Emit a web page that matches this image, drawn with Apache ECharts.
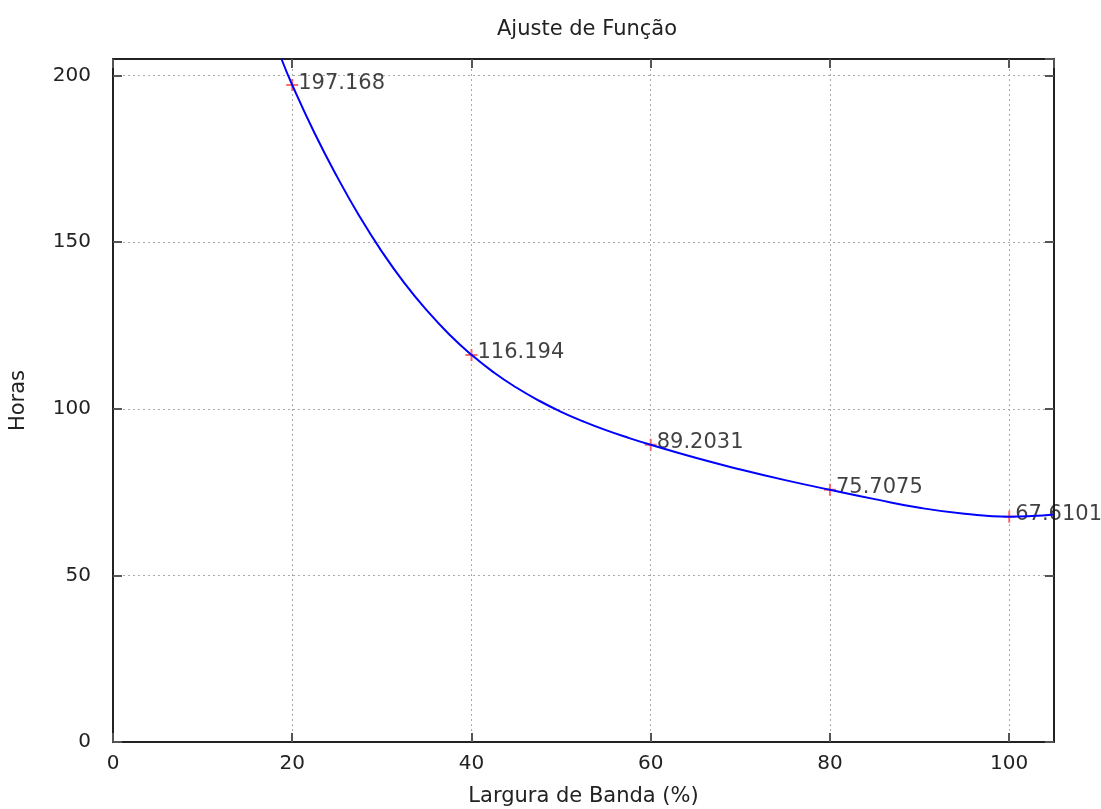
<!DOCTYPE html>
<html>
<head>
<meta charset="utf-8">
<title>Ajuste de Função</title>
<script src="https://cdn.jsdelivr.net/npm/echarts@6/dist/echarts.min.js"></script>
<style>
  html, body { margin: 0; padding: 0; background: #fff; }
  #chart { width: 1101px; height: 809px; }
</style>
</head>
<body>
<div id="chart"></div>
<script>
// pontos medidos
var larguraBanda = [20, 40, 60, 80, 100];
var horas = [197.168, 116.194, 89.2031, 75.7075, 67.6101];
var rotulos = ["197.168", "116.194", "89.2031", "75.7075", "67.6101"];

// curva ajustada
var ajusteX = [18.8, 20, 22.5, 25, 27.5, 30, 32.5, 35, 37.5, 40, 42.5, 45, 47.5, 50,
  52.5, 55, 57.5, 60, 65, 70, 75, 80, 85, 90, 95, 100, 102.5, 105];
var ajusteY = [205.0, 197.2, 182.7, 169.7, 157.8, 147.2, 137.8, 129.6, 122.4, 116.2, 110.9, 106.4, 102.5, 99.1,
  96.2, 93.6, 91.3, 89.2, 85.3, 81.8, 78.6, 75.7, 72.9, 70.3, 68.5, 67.6, 67.8, 68.3];

var xTicks = { min: 0, max: 105, interval: 20 };
var yTicks = { min: 0, max: 205, interval: 50 };

var fonte = "DejaVu Sans";
var corEixo = "#222";

var ajuste = [];
for (var i = 0; i < ajusteX.length; i++) {
  ajuste.push([ajusteX[i], ajusteY[i]]);
}
var pontos = [];
for (var k = 0; k < larguraBanda.length; k++) {
  pontos.push({ value: [larguraBanda[k], horas[k]], rotulo: rotulos[k] });
}

function eixo(extra) {
  var base = {
    type: "value",
    axisLine: { show: true, onZero: false, lineStyle: { color: corEixo, width: 2 } },
    axisTick: { show: true, inside: true, length: 9, lineStyle: { color: "#555", width: 2 } },
    splitLine: { show: false },
    axisLabel: { show: false }
  };
  for (var key in extra) base[key] = extra[key];
  return base;
}

var myChart = echarts.init(document.getElementById("chart"));

var option = {
  backgroundColor: "#fff",
  animation: false,
  title: {
    text: "Ajuste de Função",
    left: 582,
    textAlign: "center",
    top: 14,
    textStyle: { fontFamily: fonte, fontSize: 21, fontWeight: "normal", color: "#222" }
  },
  grid: { left: 113, right: 47, top: 59, bottom: 67, outerBoundsMode: "none" },
  xAxis: [
    eixo({
      position: "bottom",
      min: xTicks.min, max: xTicks.max, interval: xTicks.interval,
      name: "Largura de Banda (%)",
      nameLocation: "middle",
      nameGap: 44,
      nameTextStyle: { fontFamily: fonte, fontSize: 21, color: "#222" },
      axisLabel: { show: true, showMaxLabel: false, margin: 12, fontFamily: fonte, fontSize: 20, color: "#222" },
      splitLine: { show: true, lineStyle: { color: "#aaa", width: 1, type: [2, 3] } }
    }),
    eixo({ position: "top", min: xTicks.min, max: xTicks.max, interval: xTicks.interval })
  ],
  yAxis: [
    eixo({
      position: "left",
      min: yTicks.min, max: yTicks.max, interval: yTicks.interval,
      name: "Horas",
      nameLocation: "middle",
      nameGap: 84,
      nameTextStyle: { fontFamily: fonte, fontSize: 21, color: "#222" },
      axisLabel: { show: true, showMaxLabel: false, margin: 22, fontFamily: fonte, fontSize: 20, color: "#222" },
      splitLine: { show: true, lineStyle: { color: "#aaa", width: 1, type: [2, 3] } }
    }),
    eixo({ position: "right", min: yTicks.min, max: yTicks.max, interval: yTicks.interval })
  ],
  series: [
    {
      name: "ajuste",
      type: "line",
      data: ajuste,
      smooth: true,
      showSymbol: false,
      clip: true,
      lineStyle: { color: "#0000ff", width: 2 },
      z: 3
    },
    {
      name: "horas",
      type: "scatter",
      data: pontos,
      symbol: "path://M5,0h2v5h5v2h-5v5h-2v-5h-5v-2h5z",
      symbolSize: 12,
      itemStyle: { color: "#ff4a4a" },
      label: {
        show: true,
        position: "right",
        distance: 0,
        offset: [0, -2],
        fontFamily: fonte,
        fontSize: 21,
        color: "#111",
        formatter: function (p) { return p.data.rotulo; }
      },
      z: 2
    }
  ]
};
myChart.setOption(option);
</script>
</body>
</html>
